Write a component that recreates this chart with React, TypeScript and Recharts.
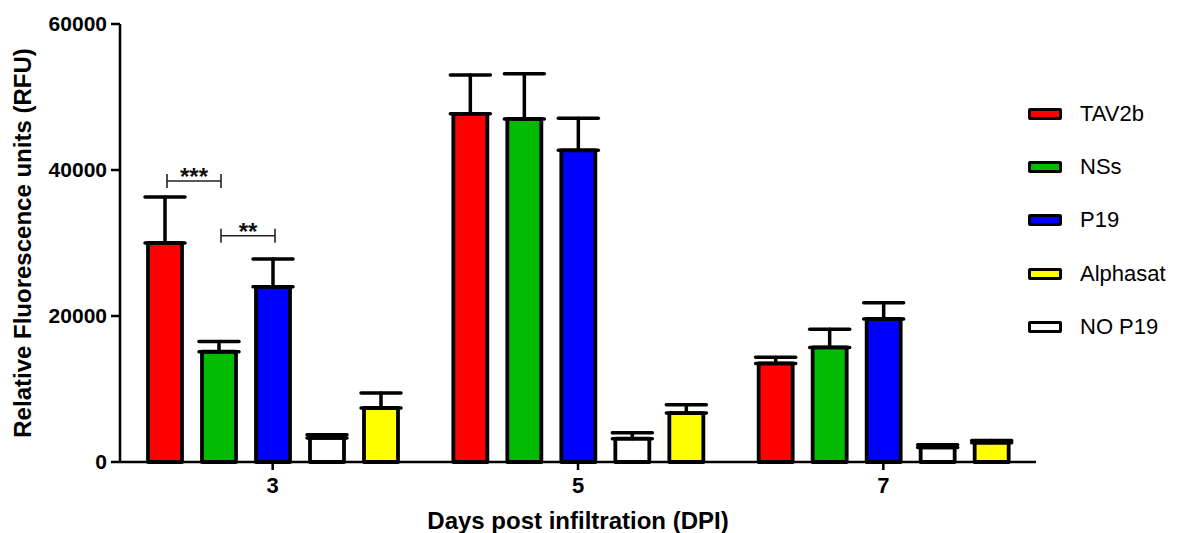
import React from "react";
import { BarChart, Bar, XAxis, YAxis, ErrorBar, Label, LabelList } from "recharts";

const days = ["3", "5", "7"];
const tav2b = [30000, 47700, 13500];
const tav2bErr = [6300, 5300, 850];
const nss = [15100, 47000, 15700];
const nssErr = [1400, 6200, 2500];
const p19 = [24000, 42700, 19600];
const p19Err = [3800, 4400, 2200];
const noP19 = [3300, 3200, 2000];
const noP19Err = [450, 800, 350];
const alphasat = [7400, 6700, 2650];
const alphasatErr = [2050, 1150, 300];
const yTicks = [0, 20000, 40000, 60000];

// significance brackets at day 3 (bar index inside the group)
const sigBrackets = [
  { from: 0, to: 1, value: 38500, text: "***" },
  { from: 1, to: 2, value: 31000, text: "**" },
];

const FONT = "'Liberation Sans', Arial, Helvetica, sans-serif";
const BAR_GAP = 20;

const series = [
  { key: "TAV2b", color: "#ff0000" },
  { key: "NSs", color: "#00bb00" },
  { key: "P19", color: "#0000ff" },
  { key: "NO P19", color: "#ffffff" },
  { key: "Alphasat", color: "#ffff00" },
];
const legendOrder = ["TAV2b", "NSs", "P19", "Alphasat", "NO P19"];

const data = days.map((d, i) => ({
  day: d,
  TAV2b: tav2b[i],
  TAV2bErr: [0, tav2bErr[i]],
  NSs: nss[i],
  NSsErr: [0, nssErr[i]],
  P19: p19[i],
  P19Err: [0, p19Err[i]],
  "NO P19": noP19[i],
  "NO P19Err": [0, noP19Err[i]],
  Alphasat: alphasat[i],
  AlphasatErr: [0, alphasatErr[i]],
}));

const renderBrackets = (props: any) => {
  const { x, y, width, height, value, index } = props;
  if (index !== 0 && value !== nss[0]) return null;
  const px = height / value;
  const base = y + height;
  const pitch = width + BAR_GAP;
  const mid = x + width / 2;
  return (
    <g>
      {sigBrackets.map((b) => {
        const x1 = mid + (b.from - 1) * pitch + 2;
        const x2 = mid + (b.to - 1) * pitch + 2;
        const yy = base - b.value * px;
        return (
          <g key={b.text} stroke="#222" strokeWidth={1.6}>
            <line x1={x1} x2={x2} y1={yy} y2={yy} />
            <line x1={x1} x2={x1} y1={yy - 7} y2={yy + 7} />
            <line x1={x2} x2={x2} y1={yy - 7} y2={yy + 7} />
            <text x={(x1 + x2) / 2} y={yy + 4} textAnchor="middle" fontSize={24} fontWeight="bold" fontFamily={FONT} fill="#111" stroke="none">
              {b.text}
            </text>
          </g>
        );
      })}
    </g>
  );
};

export default function App() {
  return (
    <div style={{ position: "absolute", top: 0, left: 0, width: 1186, height: 533 }}>
      <BarChart
        width={1186}
        height={533}
        data={data}
        margin={{ top: 24, right: 150, bottom: 0, left: 0 }}
        barGap={BAR_GAP}
        barCategoryGap={28}
        style={{ fontFamily: FONT }}
      >
        <XAxis
          dataKey="day"
          height={71}
          tickSize={8}
          tickMargin={7}
          axisLine={{ stroke: "#000", strokeWidth: 2.5 }}
          tickLine={{ stroke: "#000", strokeWidth: 2.5 }}
          tick={{ fill: "#000", fontSize: 22, fontWeight: "bold" }}
        >
          <Label
            content={(p: any) => {
              const vb = p.viewBox;
              return (
                <text x={vb.x + vb.width / 2} y={529} textAnchor="middle" fontSize={24} fontWeight="bold" fontFamily={FONT} fill="#000">
                  Days post infiltration (DPI)
                </text>
              );
            }}
          />
        </XAxis>
        <YAxis
          width={120}
          domain={[0, 60000]}
          ticks={yTicks}
          tickSize={9}
          tickMargin={4}
          axisLine={{ stroke: "#000", strokeWidth: 2.5 }}
          tickLine={{ stroke: "#000", strokeWidth: 2.5 }}
          tick={{ fill: "#000", fontSize: 21, fontWeight: "bold" }}
        >
          <Label
            content={(p: any) => {
              const vb = p.viewBox;
              const cy = vb.y + vb.height / 2;
              return (
                <text x={31} y={cy} transform={`rotate(-90 31 ${cy})`} textAnchor="middle" fontSize={24} fontWeight="bold" fontFamily={FONT} fill="#000">
                  Relative Fluorescence units (RFU)
                </text>
              );
            }}
          />
        </YAxis>
        {series.map((s) => (
          <Bar key={s.key} dataKey={s.key} fill={s.color} stroke="#000" strokeWidth={3.8} strokeLinejoin="round" isAnimationActive={false}>
            <ErrorBar dataKey={`${s.key}Err`} direction="y" width={20} stroke="#000" strokeWidth={3.5} strokeLinecap="round" />
            {s.key === "NSs" && <LabelList dataKey="NSs" content={renderBrackets} />}
          </Bar>
        ))}
      </BarChart>
      <div style={{ position: "absolute", left: 1028, top: 87, fontFamily: FONT }}>
        {legendOrder.map((k) => {
          const s = series.find((x) => x.key === k)!;
          return (
            <div key={k} style={{ height: 53.3, display: "flex", alignItems: "center" }}>
              <span style={{ display: "inline-block", width: 28, height: 6, border: "3.5px solid #000", borderRadius: 2, background: s.color, marginRight: 18 }} />
              <span style={{ fontSize: 22, color: "#000" }}>{k}</span>
            </div>
          );
        })}
      </div>
    </div>
  );
}
